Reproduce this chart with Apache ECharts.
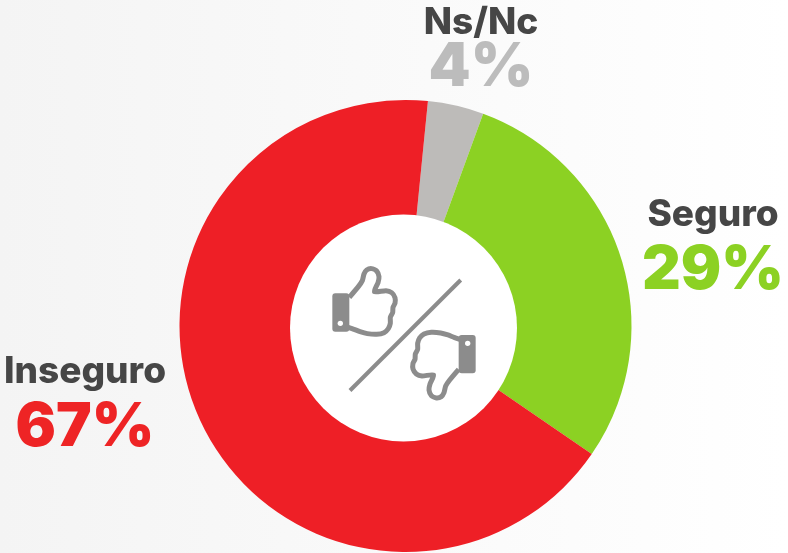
<!DOCTYPE html>
<html lang="es" style="height: 100%">

<head>
    <meta charset="UTF-8">
    <title>Seguro / Inseguro</title>
    <script src="https://cdn.jsdelivr.net/npm/echarts@6/dist/echarts.min.js"></script>
</head>

<body style="height: 100%; margin: 0">
    <div id="chart" style="width: 788px; height: 553px"></div>

    <script>
        var categories = ['Ns/Nc', 'Seguro', 'Inseguro'];
        var percents = [4, 29, 67];
        var sliceColors = ['#bdbbb9', '#8cd123', '#ee1f26'];
        var percentColors = ['#bcbcbc', '#8cd123', '#ee2425'];

        var myChart = echarts.init(document.getElementById('chart'));

        // where each label block sits, same order as categories
        var labelSpots = [[481, 53], [713, 245], [85, 402]];
        var nameLineHeights = [30, 52, 52];

        var iconColor = '#8c8c8c';

        // hand icon at 3x, rotated for the thumb down
        var handPoints = [
            [208, 232], [235, 200], [247, 182], [252, 162], [260, 150], [275, 146], [290, 153], [297, 170],
            [294, 188], [283, 215], [318, 212], [335, 218], [345, 233], [345, 250], [339, 262], [338, 278],
            [331, 292], [331, 310], [325, 326], [312, 338], [290, 343], [262, 341], [240, 335], [222, 328], [205, 322]
        ];

        function handIcon(rotation) {
            return {
                type: 'group',
                x: 404,
                y: 333.3,
                scaleX: 1 / 3,
                scaleY: 1 / 3,
                rotation: rotation,
                children: [{
                    type: 'group',
                    x: -372,
                    y: -340,
                    children: [
                        {
                            type: 'polyline',
                            z: 11,
                            shape: { points: handPoints, smooth: 0.2 },
                            style: { fill: null, stroke: iconColor, lineWidth: 15, lineJoin: 'round' }
                        },
                        {
                            type: 'rect',
                            z: 11,
                            shape: { x: 157, y: 220, width: 51, height: 115, r: 9 },
                            style: { fill: iconColor }
                        },
                        {
                            type: 'circle',
                            z: 12,
                            shape: { cx: 181, cy: 310, r: 8 },
                            style: { fill: '#ffffff' }
                        }
                    ]
                }]
            };
        }

        var seriesData = categories.map(function (name, i) {
            return {
                name: name,
                value: percents[i],
                itemStyle: { color: sliceColors[i] },
                label: {
                    rich: {
                        n: { fontSize: 37, fontWeight: 800, fontFamily: 'Inter', color: '#464646', lineHeight: nameLineHeights[i], align: 'center' },
                        p: { fontSize: 60, fontWeight: 900, fontFamily: 'Inter', color: percentColors[i], lineHeight: 60, align: 'center' }
                    }
                }
            };
        });

        myChart.setOption({
            animation: false,
            backgroundColor: {
                type: 'linear', x: 0, y: 0, x2: 1, y2: 0,
                colorStops: [{ offset: 0, color: '#f4f4f4' }, { offset: 1, color: '#ffffff' }]
            },
            graphic: [
                {
                    type: 'circle',
                    z: 10,
                    shape: { cx: 403.5, cy: 328, r: 113.5 },
                    style: { fill: '#ffffff' }
                },
                handIcon(0),
                handIcon(Math.PI),
                {
                    type: 'line',
                    z: 11,
                    shape: { x1: 350, y1: 390.5, x2: 460.7, y2: 280 },
                    style: { stroke: iconColor, lineWidth: 4 }
                }
            ],
            series: [{
                type: 'pie',
                center: [405.5, 326],
                radius: [100, 226],
                startAngle: 84.3,
                clockwise: true,
                avoidLabelOverlap: false,
                silent: true,
                data: seriesData,
                label: {
                    show: true,
                    position: 'outside',
                    formatter: function (p) {
                        return '{n|' + p.name + '}\n{p|' + p.value + '%}';
                    }
                },
                labelLine: { show: false },
                labelLayout: function (params) {
                    var spot = labelSpots[params.dataIndex];
                    return { x: spot[0], y: spot[1], align: 'center', verticalAlign: 'middle' };
                }
            }]
        });
    </script>
</body>

</html>
